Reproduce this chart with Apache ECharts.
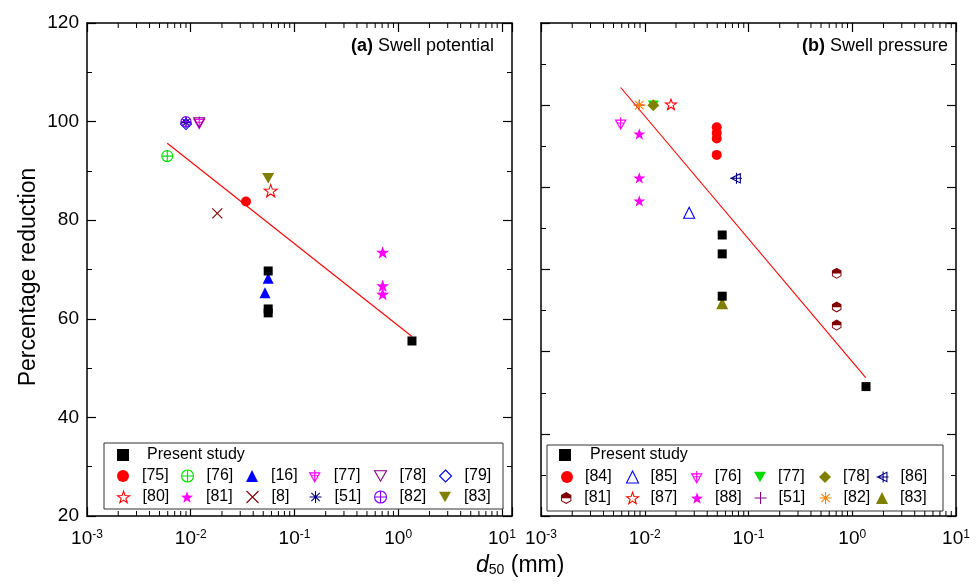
<!DOCTYPE html>
<html>
<head>
<meta charset="utf-8">
<script src="https://cdn.jsdelivr.net/npm/echarts@6/dist/echarts.min.js"></script>
<style>
html,body{margin:0;padding:0;background:#fff;}
#chart{width:979px;height:588px;}
</style>
</head>
<body>
<div id="chart"></div>
<script>
// ---- Panel (a): swell potential, [d50 (mm), % reduction] ----
const aPresent = [[0.0558, 69.7], [0.0558, 62.0], [0.0558, 61.2], [1.357, 55.5]];
const a75 = [[0.0341, 83.8]];
const a76 = [[0.00594, 93.0]];
const a16 = [[0.0558, 68.2], [0.052, 65.3]];
const a77 = [[0.01207, 99.8]];
const a78 = [[0.01207, 99.8]];
const a79 = [[0.0090, 99.5]];
const a80 = [[0.0590, 86.0]];
const a81 = [[0.708, 73.5], [0.708, 66.7], [0.708, 65.0]];
const a8 = [[0.01803, 81.4]];
const a51 = [[0.0090, 99.8]];
const a82 = [[0.0090, 100.0]];
const a83 = [[0.0558, 88.5]];
const aFit = [[0.00594, 95.6], [1.357, 56.4]];

// ---- Panel (b): swell pressure, [d50 (mm), % reduction] ----
const bPresent = [[0.0558, 68.4], [0.0558, 63.8], [0.0558, 53.5], [1.357, 31.5]];
const b84 = [[0.0494, 94.6], [0.0494, 93.2], [0.0494, 91.9], [0.0494, 87.9]];
const b85 = [[0.0268, 73.8]];
const b76 = [[0.00586, 95.6]];
const b77 = [[0.01209, 100.0]];
const b78 = [[0.01209, 100.0]];
const b86 = [[0.0757, 82.2]];
const b81 = [[0.708, 59.1], [0.708, 50.9], [0.708, 46.5]];
const b87 = [[0.0179, 100.2]];
const b88 = [[0.00886, 93.0], [0.00886, 82.3], [0.00886, 76.7]];
const b51 = [[0.00886, 100.0]];
const b82 = [[0.00886, 100.0]];
const b83 = [[0.0558, 51.8]];
const bFit = [[0.00586, 104.3], [1.348, 33.7]];

// legend layout: rows of reference labels under "Present study"
const aLegendRows = [
  ['[75]', '[76]', '[16]', '[77]', '[78]', '[79]'],
  ['[80]', '[81]', '[8]', '[51]', '[82]', '[83]']
];
const bLegendRows = [
  ['[84]', '[85]', '[76]', '[77]', '[78]', '[86]'],
  ['[81]', '[87]', '[88]', '[51]', '[82]', '[83]']
];

// axis ranges
const xMin = 0.001;
const aXMax = 12.5;
const bXMax = 10;
const aYMin = 20, aYMax = 120, aYStep = 20;
const bYMin = 0, bYMax = 120, bYStep = 20;

const FONT = '"Liberation Sans", Arial, sans-serif';

const SYM = {
  square: 'rect',
  circle: 'circle',
  triUp: 'triangle',
  diamond: 'diamond',
  circlePlus: 'path://M0,10A10,10 0 1,0 20,10A10,10 0 1,0 0,10Z M10,0L10,20 M0,10L20,10',
  triDown: 'path://M0,0L20,0L10,17.3Z',
  triDownPlus: 'path://M1,5L19,5L10,21Z M10,0L10,21 M4,10L16,10',
  star: 'path://M10,0L12.35,6.76L19.51,6.91L13.8,11.24L15.88,18.09L10,14L4.12,18.09L6.2,11.24L0.49,6.91L7.65,6.76Z',
  cross: 'path://M0,0L20,20M20,0L0,20',
  asterisk: 'path://M10,0L10,20M0,10L20,10M3,3L17,17M17,3L3,17',
  plus: 'path://M10,0L10,20M0,10L20,10',
  triLeftPlus: 'path://M2,10L19,1.5L19,18.5Z M12,0L12,20 M0,10L22,10',
  halfHex: 'path://M10,0L18.66,5L18.66,15L10,20L1.34,15L1.34,5Z M3,10.6L3,14L10,18.1L17,14L17,10.6Z'
};

// style table per legend entry: [symbol, color, size, hollow]
const aStyle = {
  'Present study': [SYM.square, '#000000', 9, false],
  '[75]': [SYM.circle, '#ff0000', 10, false],
  '[76]': [SYM.circlePlus, '#00dd00', 11, true],
  '[16]': [SYM.triUp, '#0000ff', 11, false],
  '[77]': [SYM.triDownPlus, '#ff00ff', 12, true],
  '[78]': [SYM.triDown, '#800080', 11, true],
  '[79]': [SYM.diamond, '#0000ff', 11, true],
  '[80]': [SYM.star, '#ff0000', 13, true],
  '[81]': [SYM.star, '#ff00ff', 13, false],
  '[8]': [SYM.cross, '#800000', 10, true],
  '[51]': [SYM.asterisk, '#000080', 11, true],
  '[82]': [SYM.circlePlus, '#8000ff', 10, true],
  '[83]': [SYM.triDown, '#808000', 12, false]
};
const bStyle = {
  'Present study': [SYM.square, '#000000', 9, false],
  '[84]': [SYM.circle, '#ff0000', 10, false],
  '[85]': [SYM.triUp, '#0000ff', 11, true],
  '[76]': [SYM.triDownPlus, '#ff00ff', 12, true],
  '[77]': [SYM.triDown, '#00dd00', 11, false],
  '[78]': [SYM.diamond, '#808000', 12, false],
  '[86]': [SYM.triLeftPlus, '#000080', 12, true],
  '[81]': [SYM.halfHex, '#800000', 11, false],
  '[87]': [SYM.star, '#ff0000', 11, true],
  '[88]': [SYM.star, '#ff00ff', 12, false],
  '[51]': [SYM.plus, '#800080', 10, true],
  '[82]': [SYM.asterisk, '#ff8000', 12, true],
  '[83]': [SYM.triUp, '#808000', 12, false]
};

const aData = {
  'Present study': aPresent, '[75]': a75, '[76]': a76, '[16]': a16, '[77]': a77, '[78]': a78,
  '[79]': a79, '[80]': a80, '[81]': a81, '[8]': a8, '[51]': a51, '[82]': a82, '[83]': a83
};
const bData = {
  'Present study': bPresent, '[84]': b84, '[85]': b85, '[76]': b76, '[77]': b77, '[78]': b78,
  '[86]': b86, '[81]': b81, '[87]': b87, '[88]': b88, '[51]': b51, '[82]': b82, '[83]': b83
};

function styleOf(st) {
  const hollow = st[3], color = st[1];
  return hollow
    ? { color: 'rgba(0,0,0,0)', borderColor: color, borderWidth: 1.1, opacity: 1 }
    : { color: color, borderWidth: 0, opacity: 1 };
}

function scatterSeries(prefix, dataMap, styleMap, xi, yi) {
  // draw order: present study last so it sits on top
  const names = Object.keys(dataMap).filter(n => n !== 'Present study').concat(['Present study']);
  return names.map(n => {
    const st = styleMap[n];
    return {
      type: 'scatter',
      name: prefix + n,
      data: dataMap[n],
      xAxisIndex: xi, yAxisIndex: yi,
      symbol: st[0], symbolSize: st[2], symbolKeepAspect: true,
      itemStyle: styleOf(st),
      emphasis: { disabled: true },
      z: n === 'Present study' ? 4 : 3
    };
  });
}

function fitSeries(data, xi, yi) {
  return {
    type: 'line', data: data, xAxisIndex: xi, yAxisIndex: yi,
    showSymbol: false, symbol: 'none',
    lineStyle: { color: '#ff0000', width: 1.1 },
    emphasis: { disabled: true }, silent: true, z: 2
  };
}

// minor log ticks (2..9 x 10^k) drawn on bottom and top edges
function minorTickValues(maxV) {
  const out = [];
  for (let e = -3; e <= 1; e++) {
    for (let m = 2; m <= 9; m++) {
      const v = m * Math.pow(10, e);
      if (v < maxV) out.push(v);
    }
  }
  return out;
}
function minorTickSeries(maxV, yLo, yHi, xi, yi) {
  return {
    type: 'custom', xAxisIndex: xi, yAxisIndex: yi, silent: true, clip: false, z: 5,
    data: minorTickValues(maxV).map(v => [v, yLo]),
    encode: { x: 0, y: 1 },
    renderItem: function (params, api) {
      const v = api.value(0);
      const b = api.coord([v, yLo]);
      const t = api.coord([v, yHi]);
      const ls = { stroke: '#000', lineWidth: 1 };
      return {
        type: 'group', children: [
          { type: 'line', shape: { x1: b[0], y1: b[1], x2: b[0], y2: b[1] - 5 }, style: ls },
          { type: 'line', shape: { x1: t[0], y1: t[1], x2: t[0], y2: t[1] + 5 }, style: ls }
        ]
      };
    }
  };
}

function powLabel(v) {
  const e = Math.round(Math.log10(v));
  if (Math.abs(Math.log10(v) - e) > 1e-6) return '';
  return '{b|10}{s|' + e + '}';
}

const axisLine = { show: true, onZero: false, lineStyle: { color: '#000', width: 1.5 } };
const majorTick = { show: true, inside: true, length: 9, lineStyle: { color: '#000', width: 1.2 } };
const xLabelRich = {
  b: { fontSize: 19, fontFamily: FONT, color: '#000' },
  s: { fontSize: 12, fontFamily: FONT, color: '#000', verticalAlign: 'top', padding: [0, 0, 8, 0] }
};

function xAxisPair(gi, maxV) {
  const base = {
    type: 'log', logBase: 10, gridIndex: gi, min: xMin, max: maxV,
    axisLine: axisLine, axisTick: majorTick, splitLine: { show: false }
  };
  return [
    Object.assign({}, base, {
      position: 'bottom',
      axisLabel: { show: true, margin: 13, formatter: powLabel, rich: xLabelRich, showMinLabel: true, showMaxLabel: true }
    }),
    Object.assign({}, base, { position: 'top', axisLabel: { show: false } })
  ];
}
function yAxisPair(gi, lo, hi, step, labels) {
  const base = {
    type: 'value', gridIndex: gi, min: lo, max: hi, interval: step,
    axisLine: axisLine, axisTick: majorTick,
    minorTick: { show: true, splitNumber: 2, length: 5, lineStyle: { color: '#000', width: 1 } },
    splitLine: { show: false }, minorSplitLine: { show: false }
  };
  return [
    Object.assign({}, base, {
      position: 'left',
      axisLabel: { show: labels, margin: 8, fontSize: 19, fontFamily: FONT, color: '#000' }
    }),
    Object.assign({}, base, { position: 'right', axisLabel: { show: false } })
  ];
}

// legend blocks: one legend per cell, so the columns line up
function legendBlock(prefix, rows, styleMap, colX, rowY, presentX, presentTextGap, cellTextGap) {
  const list = [];
  const mk = (name, cx, cy, gap) => {
    const st = styleMap[name];
    list.push({
      left: cx - 6, top: cy - 9, padding: 0, itemWidth: 12, itemHeight: 12,
      selectedMode: false, symbolKeepAspect: true,
      formatter: () => name,
      textStyle: { fontSize: 16, fontFamily: FONT, color: '#000', padding: [0, 0, 0, gap] },
      data: [{ name: prefix + name, itemStyle: st[3] ? { borderWidth: 1.1, color: 'rgba(0,0,0,0)', borderColor: st[1], opacity: 1 } : { borderWidth: 0, color: st[1], opacity: 1 } }]
    });
  };
  mk('Present study', presentX, rowY[0], presentTextGap);
  rows.forEach((row, r) => row.forEach((name, c) => mk(name, colX[c], rowY[r + 1], cellTextGap)));
  return list;
}

const legends = [].concat(
  legendBlock('a', aLegendRows, aStyle, [123, 187, 252, 315, 380, 445], [456, 477, 498], 123, 13, 8),
  legendBlock('b', bLegendRows, bStyle, [567, 632, 697, 760, 825, 882], [456, 478, 499], 565, 14, 7)
);

const chart = echarts.init(document.getElementById('chart'), null, { renderer: 'canvas' });

const option = {
  animation: false,
  backgroundColor: '#ffffff',
  textStyle: { fontFamily: FONT },
  grid: [
    { left: 87, top: 23, width: 425, height: 493, containLabel: false },
    { left: 541, top: 23, width: 415, height: 493, containLabel: false }
  ],
  xAxis: [].concat(xAxisPair(0, aXMax), xAxisPair(1, bXMax)),
  yAxis: [].concat(yAxisPair(0, aYMin, aYMax, aYStep, true), yAxisPair(1, bYMin, bYMax, bYStep, false)),
  legend: legends,
  series: [].concat(
    [fitSeries(aFit, 0, 0), fitSeries(bFit, 2, 2)],
    scatterSeries('a', aData, aStyle, 0, 0),
    scatterSeries('b', bData, bStyle, 2, 2),
    [minorTickSeries(aXMax, aYMin, aYMax, 0, 0), minorTickSeries(bXMax, bYMin, bYMax, 2, 2)]
  ),
  graphic: [
    { type: 'rect', shape: { x: 104, y: 443, width: 399, height: 66 }, style: { fill: '#fff', stroke: '#333', lineWidth: 1 }, z: 1 },
    { type: 'rect', shape: { x: 547, y: 445, width: 396, height: 66 }, style: { fill: '#fff', stroke: '#333', lineWidth: 1 }, z: 1 },
    {
      type: 'text', right: 485, top: 37, z: 10,
      style: {
        text: '{b|(a)} Swell potential', fontSize: 18, fontFamily: FONT, fill: '#000',
        rich: { b: { fontWeight: 'bold', fontSize: 18, fontFamily: FONT, fill: '#000' } }
      }
    },
    {
      type: 'text', right: 31, top: 37, z: 10,
      style: {
        text: '{b|(b)} Swell pressure', fontSize: 18, fontFamily: FONT, fill: '#000',
        rich: { b: { fontWeight: 'bold', fontSize: 18, fontFamily: FONT, fill: '#000' } }
      }
    },
    {
      type: 'text', x: 29, y: 277, rotation: Math.PI / 2, z: 10,
      style: { text: 'Percentage reduction', fontSize: 23, fontFamily: FONT, fill: '#000', align: 'center', verticalAlign: 'middle' }
    },
    {
      type: 'text', left: 476, top: 554, z: 10,
      style: {
        text: '{i|d}{s|50} (mm)', fontSize: 23, fontFamily: FONT, fill: '#000',
        rich: {
          i: { fontStyle: 'italic', fontSize: 23, fontFamily: FONT, fill: '#000' },
          s: { fontSize: 14, fontFamily: FONT, fill: '#000', verticalAlign: 'bottom', padding: [10, 0, 0, 0] }
        }
      }
    }
  ]
};

chart.setOption(option);
</script>
</body>
</html>
